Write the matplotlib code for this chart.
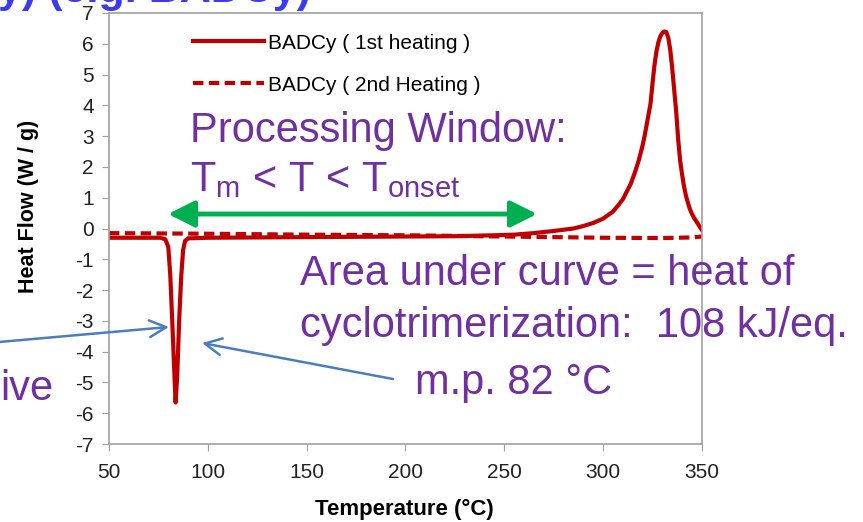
import matplotlib
matplotlib.use("Agg")
import matplotlib.pyplot as plt

plt.rcParams['font.family'] = ['Liberation Sans', 'DejaVu Sans']
plt.rcParams['axes.unicode_minus'] = False
plt.rcParams['mathtext.fontset'] = 'custom'
plt.rcParams['mathtext.rm'] = 'Liberation Sans'

RED = '#C00000'
PURPLE = '#7030A0'
GREEN = '#00B050'
BLUE = '#4A7EBB'
GRAY = '#A0A0A0'

# DSC traces, heat flow (W/g) vs temperature (C)
temp_1st = [50, 60, 70, 76, 78.5, 80, 81, 82, 83, 83.7, 84.5, 85.5, 86.5, 87.5,
            88.5, 90, 100, 125, 150, 175, 200, 225, 245, 255, 265, 275, 285,
            290, 295, 300, 305, 308, 310, 312, 314, 316, 318, 320, 321, 322,
            323, 324, 325, 326, 327, 328, 329, 330, 331, 332, 333, 334, 335,
            336, 337, 338, 339, 340, 341, 342, 343, 344, 345, 346, 347, 348,
            349, 350]
flow_1st = [-0.3, -0.3, -0.3, -0.3, -0.35, -0.6, -1.5, -3.0, -4.6, -5.65, -4.8,
            -3.0, -1.6, -0.7, -0.4, -0.32, -0.3, -0.29, -0.28, -0.27, -0.26,
            -0.25, -0.22, -0.2, -0.15, -0.08, 0.0, 0.08, 0.18, 0.32, 0.55, 0.78,
            0.95, 1.2, 1.45, 1.8, 2.2, 2.7, 3.0, 3.35, 3.7, 4.05, 4.7, 5.3, 5.75,
            6.05, 6.25, 6.35, 6.4, 6.38, 6.2, 5.8, 5.2, 4.5, 3.8, 2.9, 2.2, 1.75,
            1.35, 1.05, 0.82, 0.62, 0.47, 0.35, 0.25, 0.15, 0.05, -0.05]

temp_2nd = [50, 75, 100, 150, 200, 250, 300, 330, 345, 350]
flow_2nd = [-0.15, -0.16, -0.17, -0.2, -0.22, -0.26, -0.3, -0.31, -0.29, -0.26]

x_ticks = [50, 100, 150, 200, 250, 300, 350]
y_ticks = list(range(-7, 8))

fig = plt.figure(figsize=(8.63, 5.22), dpi=100)
ax = fig.add_axes([0.1263, 0.1494, 0.687, 0.8257])

ax.plot(temp_1st, flow_1st, c=RED, lw=3, solid_joinstyle='round',
        label='BADCy ( 1st heating )')
ax.plot(temp_2nd, flow_2nd, c=RED, lw=3, ls=(0, (2.5, 1.3)),
        label='BADCy ( 2nd Heating )')

ax.set_xlim(50, 350)
ax.set_ylim(-7, 7)
ax.set_xticks(x_ticks)
ax.set_yticks(y_ticks)
for s in ax.spines.values():
    s.set_color(GRAY)
    s.set_linewidth(1.2)
ax.tick_params(direction='out', length=5, color=GRAY, labelsize=15,
               labelcolor='#222222')
ax.tick_params(axis='x', pad=9)
ax.tick_params(axis='y', pad=6)

ax.set_xlabel('Temperature (°C)', fontsize=16, fontweight='bold', va='center')
ax.xaxis.set_label_coords(0.499, -0.151)
ax.set_ylabel('Heat Flow (W / g)', fontsize=15.5, fontweight='bold', va='center')
ax.yaxis.set_label_coords(-0.136, 0.552)

ax.legend(loc='upper left', bbox_to_anchor=(0.142, 0.952), frameon=False,
          fontsize=15, handlelength=3.4, handletextpad=0.2, labelspacing=1.1,
          borderpad=0, borderaxespad=0)

# slide overlay: heading cut off at the top, annotations
fig.text(-0.002, 1 - 2 / 522, 'y) (e.g. BADCy)', color='#3A3AF0', fontsize=31,
         fontweight='bold', va='baseline', ha='left')

txt = dict(color=PURPLE, fontsize=30, va='baseline', ha='left')
fig.text(0.2202, 0.728, 'Processing Window:', **txt)
fig.text(0.2202, 0.634, r'T$_\mathregular{m}$ < T < T$_\mathregular{onset}$', **txt)
fig.text(0.3476, 0.454, 'Area under curve = heat of', **txt)
fig.text(0.3476, 0.354, 'cyclotrimerization:  108 kJ/eq.', **txt)
fig.text(0.4809, 0.245, 'm.p. 82 °C', **txt)
fig.text(0.0, 0.234, 'ive', **txt)

ax.annotate('', xy=(0.6223, 0.59), xytext=(0.1947, 0.59),
            xycoords='figure fraction', textcoords='figure fraction',
            arrowprops=dict(arrowstyle='<|-|>', color=GREEN, lw=3.5,
                            mutation_scale=40, shrinkA=0, shrinkB=0),
            annotation_clip=False)

blue = dict(arrowstyle='->', color=BLUE, lw=1.8, mutation_scale=30,
            shrinkA=0, shrinkB=0)
ax.annotate('', xy=(0.1958, 0.3736), xytext=(0.0, 0.345),
            xycoords='figure fraction', textcoords='figure fraction',
            arrowprops=blue, annotation_clip=False)
ax.annotate('', xy=(0.2341, 0.3429), xytext=(0.4554, 0.2739),
            xycoords='figure fraction', textcoords='figure fraction',
            arrowprops=blue, annotation_clip=False)

fig.savefig('out.png', dpi=100)
